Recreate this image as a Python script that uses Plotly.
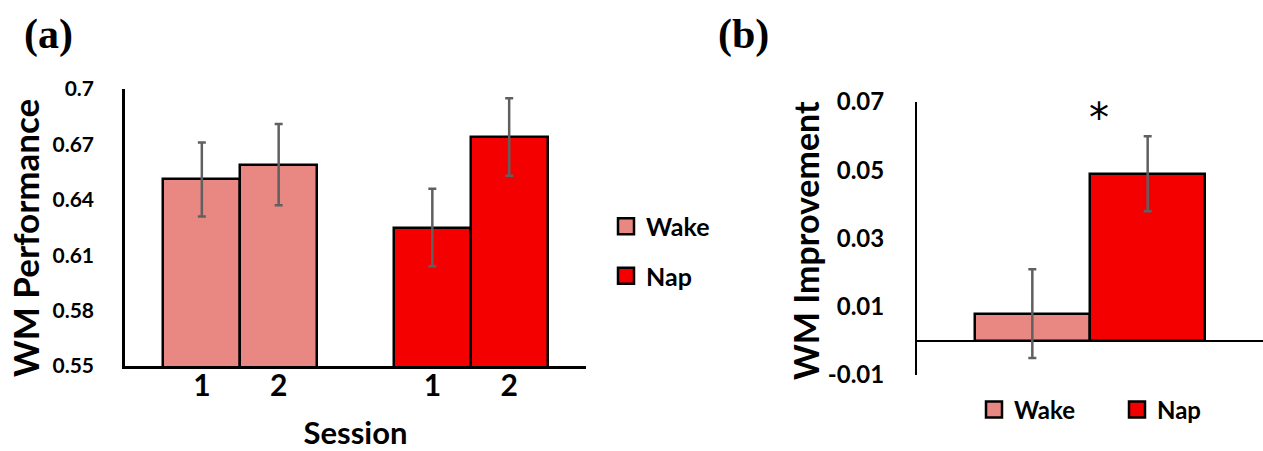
import plotly.graph_objects as go

# ---- data ----
groups = ["Wake", "Nap"]
sessions = ["1", "2"]

# (a) WM performance per session
perf_wake = [0.651, 0.659]
perf_wake_err = [0.020, 0.022]
perf_nap = [0.625, 0.674]
perf_nap_err = [0.021, 0.021]

# (b) WM improvement (session 2 - session 1)
improve = [0.008, 0.049]
improve_err = [0.013, 0.011]

perf_ticks = [0.55, 0.58, 0.61, 0.64, 0.67, 0.70]
perf_ticktext = ["0.55", "0.58", "0.61", "0.64", "0.67", "0.7"]
imp_ticks = [-0.01, 0.01, 0.03, 0.05, 0.07]
imp_ticktext = ["-0.01", "0.01", "0.03", "0.05", "0.07"]

# ---- style ----
W, H = 1263, 451
FONT = "Lato"
colors = {"Wake": "#E98882", "Nap": "#F40000"}
ERR_COLOR = "#606060"


def px_x(p):
    return p / W


def px_y(p):
    return 1 - p / H


def bold(size):
    return dict(family=FONT, size=size, color="black", weight=700)


fig = go.Figure()

# panel (a): two sessions per group, groups separated by an empty slot
perf_vals = {"Wake": (perf_wake, perf_wake_err), "Nap": (perf_nap, perf_nap_err)}
tickpos, ticklab = [], []
for gi, g in enumerate(groups):
    vals, errs = perf_vals[g]
    xs = [gi * (len(sessions) + 1) + si + 1 for si in range(len(sessions))]
    tickpos += xs
    ticklab += sessions
    fig.add_trace(go.Bar(
        x=xs, y=vals, width=1, name=g, showlegend=False,
        marker=dict(color=colors[g], line=dict(color="black", width=2.5)),
        error_y=dict(type="data", array=errs, color=ERR_COLOR, thickness=2.5, width=4),
        xaxis="x", yaxis="y",
    ))

# panel (b): improvement per group
for gi, g in enumerate(groups):
    fig.add_trace(go.Bar(
        x=[gi + 1], y=[improve[gi]], width=1, name=g, showlegend=False,
        marker=dict(color=colors[g], line=dict(color="black", width=2.5)),
        error_y=dict(type="data", array=[improve_err[gi]], color=ERR_COLOR, thickness=2.5, width=4),
        xaxis="x2", yaxis="y2",
    ))

# legend entries (square swatches)
for gi, g in enumerate(groups):
    fig.add_trace(go.Scatter(
        x=[None], y=[None], mode="markers", name=g, legendgroup="a" + g, legend="legend",
        marker=dict(symbol="square", size=16, color=colors[g], line=dict(color="black", width=2.5)),
        xaxis="x", yaxis="y",
    ))
    fig.add_trace(go.Scatter(
        x=[None], y=[None], mode="markers", name=g, legend="legend2",
        marker=dict(symbol="square", size=16, color=colors[g], line=dict(color="black", width=2.5)),
        xaxis="x2", yaxis="y2",
    ))

n_slots = len(groups) * (len(sessions) + 1)


def label(text, x, y, font, angle=0):
    return dict(text=text, x=px_x(x), y=px_y(y), xref="paper", yref="paper",
                xanchor="center", yanchor="middle", textangle=angle,
                showarrow=False, font=font)


fig.update_layout(
    template="none",
    width=W, height=H, autosize=False,
    margin=dict(l=0, r=0, t=0, b=0, autoexpand=False),
    paper_bgcolor="white", plot_bgcolor="white",
    bargap=0,
    xaxis=dict(
        domain=[px_x(125), px_x(586)], range=[0, n_slots], anchor="y", automargin=False,
        tickmode="array", tickvals=tickpos, ticktext=ticklab,
        tickfont=bold(30), ticks="", ticklabelstandoff=-9,
        showgrid=False, zeroline=False,
        showline=True, linecolor="black", linewidth=2.5,
        title=dict(text="Session", font=bold(31), standoff=26),
    ),
    yaxis=dict(
        domain=[px_y(366), px_y(89)], range=[0.55, 0.70], anchor="x", automargin=False,
        tickmode="array", tickvals=perf_ticks, ticktext=perf_ticktext,
        tickfont=bold(21), ticks="", ticklabelstandoff=24,
        showgrid=False, zeroline=False,
        showline=True, linecolor="black", linewidth=2.5,
    ),
    xaxis2=dict(
        domain=[px_x(917), 1.0], range=[0, 3], anchor="y2", automargin=False,
        showticklabels=False, ticks="", showgrid=False, zeroline=False, showline=False,
    ),
    yaxis2=dict(
        domain=[px_y(375), px_y(102)], range=[-0.01, 0.07], anchor="x2", automargin=False,
        tickmode="array", tickvals=imp_ticks, ticktext=imp_ticktext,
        tickfont=bold(24), ticks="", ticklabelstandoff=26,
        showgrid=False, zeroline=True, zerolinecolor="black", zerolinewidth=2,
        showline=True, linecolor="black", linewidth=2,
    ),
    legend=dict(
        x=px_x(606), y=px_y(251), xanchor="left", yanchor="middle",
        orientation="v", font=bold(25), tracegroupgap=14,
        bgcolor="rgba(0,0,0,0)", itemwidth=30,
    ),
    legend2=dict(
        x=px_x(974), y=px_y(410), xanchor="left", yanchor="middle",
        orientation="h", font=bold(24), entrywidth=98, entrywidthmode="pixels",
        bgcolor="rgba(0,0,0,0)", itemwidth=30,
    ),
    annotations=[
        label("(a)", 48, 34, dict(family="Liberation Serif", size=42, color="black", weight=700)),
        label("(b)", 743, 34, dict(family="Liberation Serif", size=42, color="black", weight=700)),
        label("WM Performance", 25, 238, bold(35), angle=-90),
        label("WM Improvement", 805, 241, bold(34), angle=-90),
        label("*", 1099, 118, dict(family="DejaVu Sans", size=40, color="black")),
    ],
)

fig.write_html("out.html")
